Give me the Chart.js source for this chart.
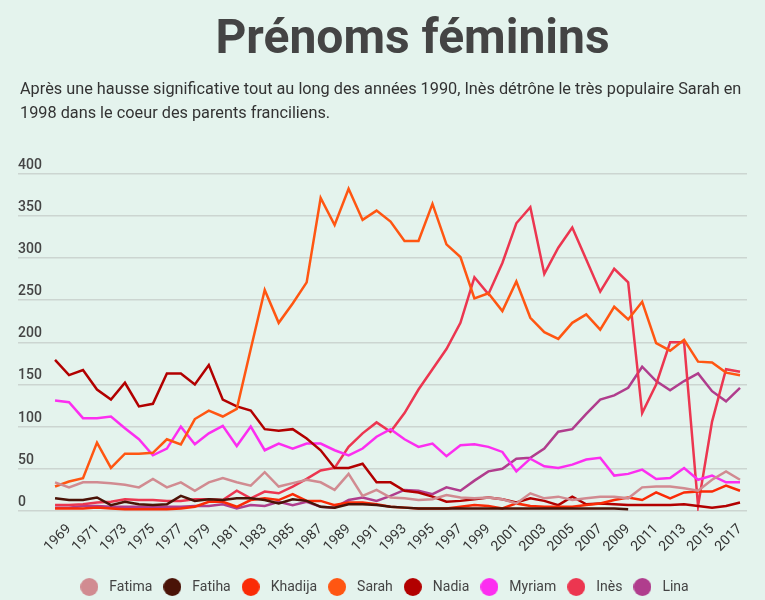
<!DOCTYPE html>
<html>
<head>
<meta charset="utf-8">
<script src="https://cdn.jsdelivr.net/npm/chart.js@4"></script>
<style>
  html, body { margin: 0; padding: 0; }
  body { width: 765px; height: 600px; background: #e4f3ed; position: relative; overflow: hidden; font-family: Roboto, sans-serif; }
  #title { position: absolute; top: 13px; left: 0; width: 825px; text-align: center; font-size: 48px; line-height: 48px; font-weight: 700; color: #444; white-space: nowrap; }
  #subtitle { position: absolute; top: 77px; left: 20px; font-size: 16.3px; line-height: 24px; color: #333; white-space: nowrap; }
  #wrap { position: absolute; left: 0; top: 0; width: 765px; height: 604px; }
</style>
</head>
<body>
<div id="wrap"><canvas id="chart"></canvas></div>
<div id="title">Prénoms féminins</div>
<div id="subtitle">Après une hausse significative tout au long des années 1990, Inès détrône le très populaire Sarah en<br>1998 dans le coeur des parents franciliens.</div>
<script>
// years 1968 - 2017
const years = [1968, 1969, 1970, 1971, 1972, 1973, 1974, 1975, 1976, 1977,
  1978, 1979, 1980, 1981, 1982, 1983, 1984, 1985, 1986, 1987,
  1988, 1989, 1990, 1991, 1992, 1993, 1994, 1995, 1996, 1997,
  1998, 1999, 2000, 2001, 2002, 2003, 2004, 2005, 2006, 2007,
  2008, 2009, 2010, 2011, 2012, 2013, 2014, 2015, 2016, 2017];

const fatima = [34, 28, 34, 34, 33, 31, 28, 38, 28, 34, 24, 34, 39, 34, 30, 46, 29, 33, 37, 34,
  25, 44, 18, 25, 16, 15, 13, 14, 19, 16, 15, 16, 14, 9, 21, 15, 17, 13, 15, 17,
  17, 15, 28, 29, 29, 27, 24, 37, 47, 37];
const fatiha = [15, 13, 13, 16, 7, 11, 8, 7, 8, 18, 12, 14, 13, 15, 15, 13, 9, 14, 12, 5,
  4, 8, 8, 7, 5, 4, 3, 3, 3, 3, 3, 3, 3, 3, 3, 3, 3, 3, 3, 3,
  3, 2, null, null, null, null, null, null, null, null];
const khadija = [3, 3, 3, 4, 3, 2, 2, 2, 2, 3, 5, 11, 11, 5, 13, 15, 13, 20, 12, 12,
  7, 10, 10, 8, 5, 4, 3, 3, 3, 5, 7, 6, 3, 9, 6, 5, 5, 5, 7, 9,
  13, 16, 13, 22, 15, 22, 23, 23, 30, 24];
const sarah = [29, 35, 39, 81, 51, 68, 68, 69, 85, 79, 109, 119, 112, 121, 192, 262, 223, 246, 271, 371,
  339, 382, 345, 356, 343, 320, 320, 364, 316, 301, 252, 258, 237, 272, 229, 212, 204, 223, 233, 215,
  242, 227, 248, 199, 190, 203, 177, 176, 164, 161];
const nadia = [179, 161, 167, 144, 132, 152, 124, 127, 163, 163, 150, 173, 132, 124, 119, 97, 95, 97, 86, 72,
  51, 51, 56, 34, 34, 24, 22, 17, 11, 12, 14, 16, 14, 10, 15, 12, 7, 17, 8, 9,
  8, 7, 7, 7, 7, 8, 6, 4, 6, 10];
const myriam = [131, 129, 110, 110, 112, 98, 85, 66, 74, 100, 79, 92, 101, 77, 100, 72, 80, 74, 80, 80,
  72, 66, 74, 88, 97, 85, 76, 80, 65, 78, 79, 76, 70, 47, 62, 53, 51, 55, 61, 63,
  42, 44, 49, 38, 39, 51, 37, 42, 34, 34];
const ines = [7, 7, 8, 10, 11, 14, 13, 13, 12, 12, 14, 14, 13, 24, 15, 23, 21, 29, 38, 48,
  51, 76, 92, 105, 94, 116, 144, 168, 192, 223, 277, 257, 294, 341, 360, 281, 312, 336, 298, 260,
  287, 271, 116, 150, 200, 200, 6, 106, 168, 165];
const lina = [4, 4, 6, 6, 5, 5, 5, 5, 5, 5, 6, 6, 8, 3, 7, 6, 11, 7, 11, 5,
  4, 13, 16, 12, 18, 25, 24, 20, 28, 24, 36, 47, 50, 62, 63, 74, 94, 97, 115, 132,
  137, 146, 171, 154, 143, 154, 163, 142, 130, 146];

const names = ['Fatima', 'Fatiha', 'Khadija', 'Sarah', 'Nadia', 'Myriam', 'Inès', 'Lina'];
const series = [fatima, fatiha, khadija, sarah, nadia, myriam, ines, lina];
const colors = ['#d18b91', '#4a1307', '#fa2b06', '#ff5612', '#b20000', '#fc2ef0', '#ec3650', '#b03d8d'];

const yTicks = [0, 50, 100, 150, 200, 250, 300, 350, 400];
const xTicks = years.filter(y => y % 2 === 1);

// round legend markers
function dot(color) {
    const c = document.createElement('canvas');
    c.width = 18;
    c.height = 18;
    const g = c.getContext('2d');
    g.fillStyle = color;
    g.beginPath();
    g.arc(9, 9, 9, 0, Math.PI * 2);
    g.fill();
    return c;
}

const datasets = names.map((name, i) => ({
    label: name,
    data: series[i].map((v, j) => ({ x: years[j], y: v })),
    borderColor: colors[i],
    backgroundColor: colors[i],
    borderWidth: 2.5,
    pointRadius: 0,
    pointStyle: dot(colors[i]),
    tension: 0,
    spanGaps: false
}));

new Chart(document.getElementById('chart'), {
    type: 'line',
    data: { datasets: datasets },
    options: {
        responsive: true,
        maintainAspectRatio: false,
        animation: false,
        layout: { padding: { left: 18, right: 18, top: 173.5, bottom: 0 } },
        plugins: {
            tooltip: { enabled: false },
            legend: {
                position: 'bottom',
                labels: {
                    usePointStyle: true,
                    pointStyleWidth: 26,
                    boxHeight: 14,
                    padding: 7,
                    color: '#444',
                    font: { family: 'Roboto', size: 14 }
                }
            }
        },
        scales: {
            x: {
                type: 'linear',
                min: 1965.35,
                max: 2017.5,
                afterBuildTicks: scale => { scale.ticks = xTicks.map(v => ({ value: v })); },
                afterFit: scale => { scale.height = 62; },
                grid: { display: false },
                border: { display: false },
                ticks: {
                    autoSkip: false,
                    minRotation: 45,
                    maxRotation: 45,
                    padding: 2,
                    color: '#333',
                    font: { family: 'Roboto', size: 14 },
                    callback: v => String(v)
                }
            },
            y: {
                min: 0,
                max: 400,
                afterBuildTicks: scale => { scale.ticks = yTicks.map(v => ({ value: v })); },
                border: { display: false },
                grid: { color: '#ccd5d1', lineWidth: 1.5, drawTicks: false },
                ticks: {
                    mirror: true,
                    padding: 0,
                    labelOffset: -8.5,
                    color: '#444',
                    font: { family: 'Roboto', size: 14, weight: '500' }
                }
            }
        }
    }
});
</script>
</body>
</html>
